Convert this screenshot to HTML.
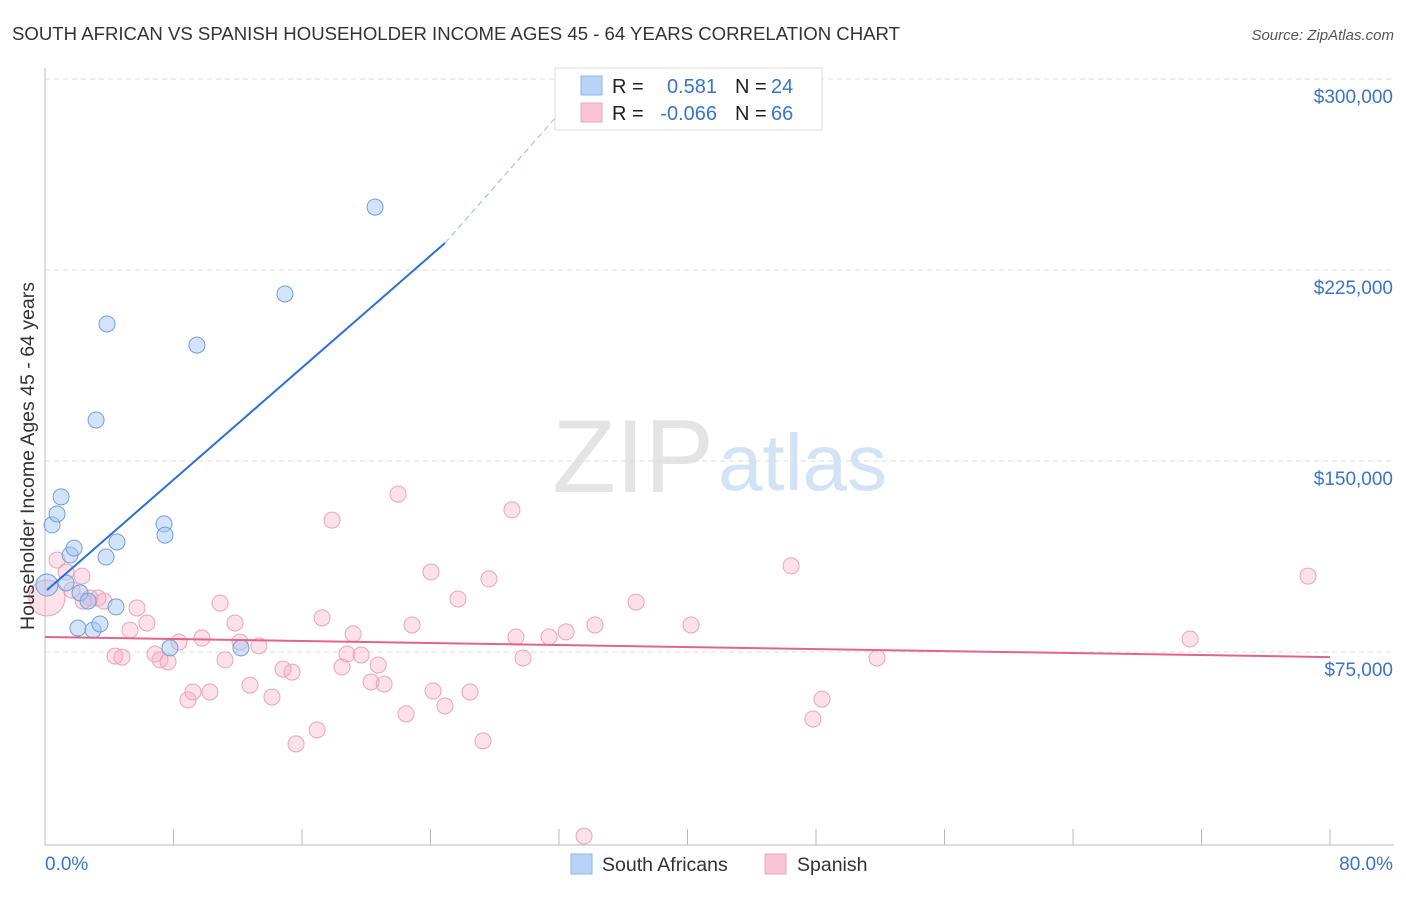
<!DOCTYPE html>
<html><head><meta charset="utf-8"><style>
body{margin:0;background:#fff;font-family:"Liberation Sans",sans-serif;}
svg text{font-family:"Liberation Sans",sans-serif;}
</style></head><body>
<svg width="1406" height="892" viewBox="0 0 1406 892" xmlns="http://www.w3.org/2000/svg">
<text x="12" y="40" font-size="18" fill="#333" textLength="888" lengthAdjust="spacingAndGlyphs">SOUTH AFRICAN VS SPANISH HOUSEHOLDER INCOME AGES 45 - 64 YEARS CORRELATION CHART</text>
<text x="1394" y="40" font-size="15" fill="#555" text-anchor="end" font-style="italic">Source: ZipAtlas.com</text>
<text x="714" y="492" font-size="104" fill="#e4e4e4" text-anchor="end" font-family="Liberation Serif">ZIP</text>
<text x="718" y="490" font-size="80" fill="#d3e2f4">atlas</text>
<g id="grid"></g>
<g id="axes"></g>
<g id="marks"></g>
<text transform="translate(34,456) rotate(-90)" font-size="19.5" fill="#333" text-anchor="middle">Householder Income Ages 45 - 64 years</text>
<g>
<rect x="555" y="68" width="267" height="62" fill="#fff" stroke="#ddd"/>
<rect x="581" y="76" width="21" height="19" fill="#b8d3f5" stroke="#8fb5e8"/>
<rect x="581" y="103" width="21" height="19" fill="#f9c4d4" stroke="#eea5bd"/>
<text x="612" y="93" font-size="20" fill="#222">R = </text><text x="717" y="93" font-size="20" fill="#3a73cc" text-anchor="end">0.581</text>
<text x="735" y="93" font-size="20" fill="#222">N = </text><text x="771" y="93" font-size="20" fill="#3a73cc">24</text>
<text x="612" y="120" font-size="20" fill="#222">R = </text><text x="717" y="120" font-size="20" fill="#3a73cc" text-anchor="end">-0.066</text>
<text x="735" y="120" font-size="20" fill="#222">N = </text><text x="771" y="120" font-size="20" fill="#3a73cc">66</text>
</g>
<g>
<rect x="571" y="854" width="21" height="20" fill="#b8d3f5" stroke="#8fb5e8"/>
<text x="602" y="871" font-size="19.5" fill="#333">South Africans</text>
<rect x="765" y="854" width="21" height="20" fill="#f9c4d4" stroke="#eea5bd"/>
<text x="797" y="871" font-size="19.5" fill="#333">Spanish</text>
</g>
</svg>
<script>
const yTicks=[75000,150000,225000,300000];
const yTickLabels=["$75,000","$150,000","$225,000","$300,000"];
const xLabels=["0.0%","80.0%"];
const blueX=[0.12,0.44,0.75,1.0,1.56,1.81,1.31,2.18,2.68,2.05,2.99,3.42,3.80,3.86,3.18,4.42,4.48,7.41,7.47,9.46,7.78,12.2,14.94,20.55];
const blueY=[101.3,124.9,129.2,135.9,113.1,115.8,102.1,98.2,95.0,84.4,83.6,86.0,112.3,203.8,166.1,92.7,118.2,125.3,120.9,195.5,76.6,76.6,215.6,249.7];
const pinkX=[0.12,0.75,1.31,2.30,1.68,2.80,3.30,3.67,2.37,5.73,5.29,6.35,4.36,4.79,6.85,7.16,7.66,8.34,8.90,9.21,10.27,9.77,10.90,11.21,11.83,12.14,12.76,13.32,14.13,14.82,15.38,15.63,16.94,17.25,17.87,18.49,18.80,19.18,19.68,20.30,20.74,21.11,21.98,22.48,22.85,24.03,24.16,24.90,25.71,26.46,27.27,27.64,29.07,29.32,29.76,31.38,32.44,33.56,34.24,36.80,40.22,46.45,47.81,48.37,51.80,71.29,78.63];
const pinkY=[96.2,111.1,106.4,104.8,99.3,96.2,96.2,95.0,95.0,92.3,83.6,86.4,73.4,73.0,74.2,71.9,71.1,78.9,56.2,59.3,59.3,80.5,94.2,71.9,86.4,78.9,62.0,77.4,57.3,68.3,67.1,38.9,44.4,88.4,126.8,69.1,74.2,82.1,73.8,63.2,69.9,62.4,137.0,50.7,85.6,106.4,59.7,53.8,95.8,59.3,40.1,103.7,130.8,80.9,72.6,80.9,82.9,2.7,85.6,94.6,85.6,108.8,48.7,56.5,72.6,80.1,104.8];
const blueTrend=[[0.12,99.3],[24.9,235.6]];
const blueTrendExt=[[24.9,235.6],[33.9,300]];
const pinkTrend=[[0,80.9],[80,73.0]];
const NS="http://www.w3.org/2000/svg";
const X=p=>45+(p/80)*1285;
const Y=v=>843-(v/75)*191;
function mk(tag,at,parent){const e=document.createElementNS(NS,tag);for(const k in at)e.setAttribute(k,at[k]);document.getElementById(parent).appendChild(e);return e;}
yTicks.forEach((t,i)=>{
 const y=Y(t/1000);
 const l=mk('line',{x1:45,x2:1394,y1:y,y2:y,stroke:'#ddd','stroke-dasharray':'5,4'},'grid');
 
 
 const tx=mk('text',{x:1393,y:y+24,'font-size':19,fill:'#3a73cc','text-anchor':'end'},'axes');
 tx.textContent=yTickLabels[i];
 
 
});
let ax=mk('line',{x1:45,x2:45,y1:68,y2:845,stroke:'#bbb'},'axes');


ax=mk('line',{x1:45,x2:1394,y1:845,y2:845,stroke:'#bbb'},'axes');


for(let i=0;i<=10;i++){const x=X(i*8);const t=mk('line',{x1:x,x2:x,y1:829,y2:845,stroke:'#bbb'},'axes');
 
 }
let xl=mk('text',{x:45,y:870,'font-size':19,fill:'#3a73cc'},'axes');xl.textContent=xLabels[0];


xl=mk('text',{x:1393,y:870,'font-size':19,fill:'#3a73cc','text-anchor':'end'},'axes');xl.textContent=xLabels[1];


pinkX.forEach((p,i)=>{const c=mk('circle',{cx:X(p),cy:Y(pinkY[i]),r:i===0?18:8,fill:'rgba(245,170,195,0.35)',stroke:'#eba3bc','stroke-width':1},'marks');
 
 });
blueX.forEach((p,i)=>{const c=mk('circle',{cx:X(p),cy:Y(blueY[i]),r:i===0?11:8,fill:'rgba(160,196,240,0.45)',stroke:'#6f9fdc','stroke-width':1},'marks');
 
 });
let tl=mk('line',{x1:X(blueTrend[0][0]),y1:Y(blueTrend[0][1]),x2:X(blueTrend[1][0]),y2:Y(blueTrend[1][1]),stroke:'#2c6fd6','stroke-width':2},'marks');


tl=mk('line',{x1:X(blueTrendExt[0][0]),y1:Y(blueTrendExt[0][1]),x2:X(blueTrendExt[1][0]),y2:Y(blueTrendExt[1][1]),stroke:'#9bbbe8','stroke-width':1,'stroke-dasharray':'6,4'},'marks');


tl=mk('line',{x1:X(pinkTrend[0][0]),y1:Y(pinkTrend[0][1]),x2:X(pinkTrend[1][0]),y2:Y(pinkTrend[1][1]),stroke:'#e4628f','stroke-width':2},'marks');


</script>
</body></html>
